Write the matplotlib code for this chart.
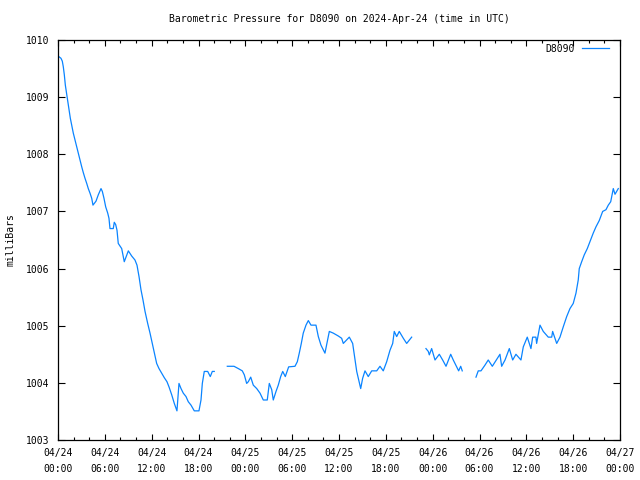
#!/usr/bin/env python3
"""
Barometric pressure trace for station D8090, 3 days from 2024-04-24 (UTC).
"""

import matplotlib
matplotlib.use("Agg")
import matplotlib.pyplot as plt
import numpy as np

# hours since 2024-04-24 00:00 UTC; NaN marks a gap in the record
hours = [
    0.0, 0.38, 0.55, 0.68, 0.81, 0.94, 1.06, 1.19, 1.32, 1.45, 1.58, 1.76, 1.96,
    2.18, 2.40, 2.60, 2.82, 3.04, 3.24, 3.46, 3.68, 3.88, 4.10, 4.32, 4.48, 4.65,
    4.87, 5.16, 5.51, 5.68, 5.89, 6.11, 6.37, 6.53, 6.66, 7.08, 7.21, 7.39, 7.56,
    7.72, 8.16, 8.49, 9.01, 9.44, 9.86, 10.12, 10.38, 10.63, 10.89, 11.15, 11.49,
    11.79, 12.08, 12.34, 12.64, 12.94, 13.28, 13.62, 13.96, 14.22, 14.57, 14.90,
    15.24, 15.50, 15.76, 16.05, 16.40, 16.69, 17.04, 17.46, 18.06, 18.32, 18.49,
    18.74, 19.18, 19.51, 19.77, 20.02,
    np.nan,
    21.69, 22.55, 23.10, 23.61, 23.87, 24.17, 24.38, 24.69, 25.02, 25.46, 25.88,
    26.30, 26.81, 27.07, 27.38, 27.58, 27.93, 28.22, 28.53, 28.79, 29.12, 29.55,
    30.36, 30.66, 30.91, 31.17, 31.42, 31.77, 32.07, 32.41, 33.05, 33.35, 33.69,
    34.20, 34.76, 35.27, 35.91, 36.34, 36.55, 37.32, 37.75, 38.05, 38.27, 38.78,
    39.03, 39.33, 39.75, 40.19, 40.83, 41.25, 41.67, 42.11, 42.53, 42.88, 43.08,
    43.39, 43.72, 44.24, 44.67, 45.31,
    np.nan,
    47.14, 47.44, 47.57, 47.87, 48.30, 48.85, 49.28, 49.71, 50.31, 50.64, 51.33,
    51.59, 51.79,
    np.nan,
    53.55, 53.84, 54.19, 54.70, 55.12, 55.64, 56.20, 56.62, 56.84, 57.27, 57.82,
    58.25, 58.67, 59.31, 59.61, 60.12, 60.59, 60.81, 61.23, 61.32, 61.75, 62.17,
    62.81, 63.25, 63.37, 63.89, 64.31, 64.73, 65.17, 65.59, 66.01, 66.36, 66.65,
    66.78, 67.09, 67.42, 67.81, 68.24, 68.57, 68.92, 69.34, 69.78, 70.20, 70.50,
    70.81, 71.14, 71.36, 71.78,
]

pressure = [
    1009.72, 1009.68, 1009.63, 1009.53, 1009.39, 1009.21, 1009.10, 1008.98,
    1008.86, 1008.75, 1008.63, 1008.51, 1008.37, 1008.25, 1008.13, 1008.02,
    1007.90, 1007.78, 1007.68, 1007.58, 1007.49, 1007.40, 1007.32, 1007.23,
    1007.11, 1007.14, 1007.18, 1007.29, 1007.40, 1007.35, 1007.23, 1007.08,
    1006.97, 1006.88, 1006.70, 1006.70, 1006.81, 1006.77, 1006.67, 1006.44,
    1006.35, 1006.12, 1006.31, 1006.22, 1006.15, 1006.06, 1005.86, 1005.63,
    1005.45, 1005.25, 1005.04, 1004.87, 1004.69, 1004.52, 1004.34, 1004.25,
    1004.17, 1004.09, 1004.02, 1003.93, 1003.79, 1003.64, 1003.51, 1003.99,
    1003.90, 1003.82, 1003.76, 1003.67, 1003.61, 1003.51, 1003.51, 1003.70,
    1003.99, 1004.20, 1004.20, 1004.11, 1004.20, 1004.20,
    np.nan,
    1004.29, 1004.29, 1004.25, 1004.21, 1004.14, 1003.99, 1004.02, 1004.10,
    1003.96, 1003.90, 1003.82, 1003.70, 1003.70, 1003.99, 1003.88, 1003.70,
    1003.85, 1003.96, 1004.11, 1004.20, 1004.11, 1004.28, 1004.29, 1004.37,
    1004.52, 1004.69, 1004.87, 1005.01, 1005.09, 1005.01, 1005.01, 1004.81,
    1004.66, 1004.52, 1004.90, 1004.87, 1004.82, 1004.78, 1004.69, 1004.80,
    1004.69, 1004.40, 1004.20, 1003.90, 1004.08, 1004.21, 1004.11, 1004.21,
    1004.21, 1004.29, 1004.21, 1004.37, 1004.57, 1004.69, 1004.90, 1004.81,
    1004.90, 1004.78, 1004.69, 1004.80,
    np.nan,
    1004.60, 1004.55, 1004.49, 1004.60, 1004.40, 1004.50, 1004.40, 1004.29,
    1004.50, 1004.40, 1004.21, 1004.29, 1004.21,
    np.nan,
    1004.10, 1004.21, 1004.21, 1004.31, 1004.40, 1004.29, 1004.41, 1004.50,
    1004.29, 1004.40, 1004.60, 1004.40, 1004.50, 1004.40, 1004.63, 1004.80,
    1004.60, 1004.80, 1004.80, 1004.69, 1005.01, 1004.90, 1004.80, 1004.80,
    1004.90, 1004.69, 1004.80, 1004.98, 1005.16, 1005.30, 1005.39, 1005.57,
    1005.80, 1006.00, 1006.12, 1006.24, 1006.35, 1006.50, 1006.62, 1006.73,
    1006.84, 1007.00, 1007.03, 1007.11, 1007.17, 1007.40, 1007.30, 1007.40,
]

tick_hours = list(range(0, 73, 6))
tick_labels = [
    "04/24\n00:00", "04/24\n06:00", "04/24\n12:00", "04/24\n18:00",
    "04/25\n00:00", "04/25\n06:00", "04/25\n12:00", "04/25\n18:00",
    "04/26\n00:00", "04/26\n06:00", "04/26\n12:00", "04/26\n18:00",
    "04/27\n00:00",
]
y_ticks = [1003, 1004, 1005, 1006, 1007, 1008, 1009, 1010]

plt.rcParams["font.family"] = "DejaVu Sans Mono"
plt.rcParams["font.size"] = 7

fig = plt.figure(figsize=(6.4, 4.8), dpi=100)
ax = fig.add_axes([58 / 640, 40 / 480, 562 / 640, 400 / 480])

ax.plot(hours, pressure, color="#0a84ff", lw=0.9, label="D8090")

ax.set_xlim(0, 72)
ax.set_ylim(1003, 1010)
ax.set_xticks(tick_hours)
ax.set_xticklabels(tick_labels, linespacing=1.7)
ax.set_xticks(range(0, 73, 2), minor=True)
ax.set_yticks(y_ticks)

ax.tick_params(axis="both", which="both", direction="in", top=True, right=True,
               width=0.8, colors="black")
ax.tick_params(axis="x", which="major", length=4.5, pad=6)
ax.tick_params(axis="x", which="minor", length=2.5)
ax.tick_params(axis="y", which="major", length=5, pad=6)
for s in ax.spines.values():
    s.set_linewidth(0.9)

ax.set_ylabel("milliBars", labelpad=8)
fig.text(339 / 640, 1 - 19 / 480, "Barometric Pressure for D8090 on 2024-Apr-24 (time in UTC)",
         ha="center", va="center")

ax.legend(loc="upper right", bbox_to_anchor=(0.993, 1.0075), frameon=False,
          handlelength=2.8, handletextpad=0.7, markerfirst=False, borderaxespad=0.3)

fig.savefig("out.png", dpi=100)
